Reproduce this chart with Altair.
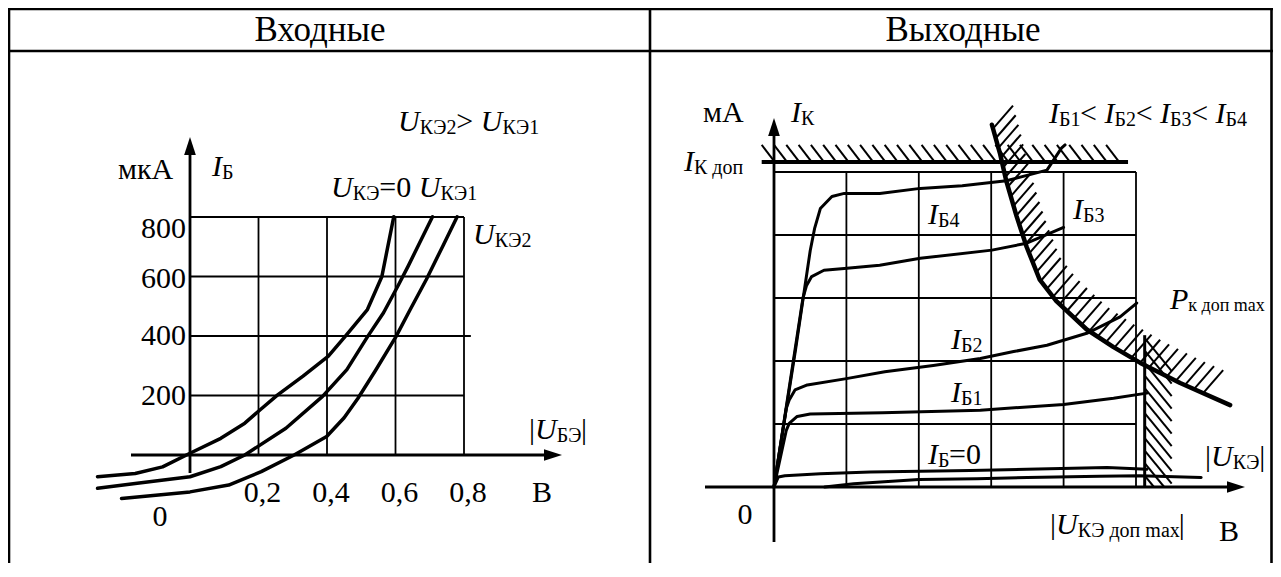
import altair as alt
import numpy as np
import pandas as pd

# ---------------- values ----------------
# Input characteristics: I_Б (мкА) versus |U_БЭ| (В)
in_ube_0 = [-0.27, -0.16, -0.08, 0.0, 0.09, 0.16, 0.205, 0.256, 0.33, 0.404, 0.452, 0.518, 0.56, 0.595]
in_ib_0 = [-73, -62, -40, 6, 56, 107, 152, 202, 265, 332, 397, 489, 599, 801]
in_ube_1 = [-0.27, -0.16, 0.0, 0.09, 0.16, 0.28, 0.387, 0.458, 0.518, 0.565, 0.607, 0.637, 0.708]
in_ib_1 = [-112, -96, -73, -39, 0, 90, 197, 287, 397, 478, 568, 635, 801]
in_ube_2 = [-0.2, -0.1, 0.0, 0.113, 0.208, 0.304, 0.399, 0.45, 0.49, 0.542, 0.601, 0.643, 0.69, 0.738, 0.78]
in_ib_2 = [-146, -135, -124, -101, -56, 0, 62, 125, 190, 285, 397, 489, 590, 702, 801]

in_grid_u = [0.2, 0.4, 0.6, 0.8]
in_grid_i = [200, 400, 600, 800]
in_tick_u_labels = ["0,2", "0,4", "0,6", "0,8"]
in_tick_i_labels = ["200", "400", "600", "800"]

# Output characteristics: I_К versus |U_КЭ| (grid units)
out_ib4_u = [0.0, 0.30, 0.50, 0.56, 0.64, 0.80, 0.97, 1.46, 2.02, 2.6, 3.21, 3.77, 3.97, 4.02]
out_ib4_i = [0.0, 2.2, 3.75, 4.1, 4.42, 4.61, 4.66, 4.66, 4.74, 4.78, 4.86, 5.03, 5.38, 5.43]
out_ib3_u = [0.0, 0.40, 0.45, 0.52, 0.69, 0.97, 1.46, 2.02, 3.01, 3.49, 4.0]
out_ib3_i = [0.0, 3.0, 3.2, 3.34, 3.44, 3.47, 3.52, 3.63, 3.76, 3.87, 4.12]
out_ib2_u = [0.0, 0.17, 0.21, 0.29, 0.46, 1.0, 1.53, 2.2, 2.85, 3.31, 3.77, 4.32, 4.78, 5.01]
out_ib2_i = [0.0, 1.25, 1.38, 1.54, 1.62, 1.72, 1.83, 1.93, 2.04, 2.15, 2.25, 2.44, 2.70, 2.92]
out_ib1_u = [0.0, 0.17, 0.21, 0.32, 0.5, 1.5, 2.85, 4.0, 4.69, 5.15]
out_ib1_i = [0.0, 0.9, 1.01, 1.12, 1.16, 1.18, 1.22, 1.31, 1.41, 1.49]
out_ib0a_u = [0.0, 0.06, 0.15, 0.64, 1.33, 2.71, 3.49, 4.6, 5.15]
out_ib0a_i = [0.0, 0.16, 0.18, 0.21, 0.24, 0.26, 0.28, 0.31, 0.28]
out_ib0b_u = [0.7, 1.1, 2.0, 2.8, 3.5, 4.5, 5.05, 5.9]
out_ib0b_i = [0.0, 0.05, 0.12, 0.13, 0.15, 0.17, 0.18, 0.15]
pk_u = [3.01, 3.12, 3.21, 3.35, 3.49, 3.67, 3.90, 4.32, 4.69, 5.06, 5.61, 6.30]
pk_i = [5.75, 5.30, 4.85, 4.30, 3.81, 3.29, 2.95, 2.50, 2.22, 1.97, 1.65, 1.30]
ik_dop = 5.16
ik_dop_span = [-0.17, 4.89]
uke_dop_max = 5.12
uke_dop_top = 2.41
out_grid = [1, 2, 3, 4, 5]

# ---------------- layout (page pixels) ----------------
FONT = "Liberation Serif"
W, H = 1265, 555
OX, OY = 8, 8
XL0, XLS, YL0, YLS = 190.0, 342.5, 455.0, 0.2975
XR0, XRS, YR0, YRS = 774.0, 72.4, 487.0, 63.0
MAIN, SUB, SUB_DY = 30, 20, 6


def l_dat(px, py):
    return (px - XL0) / XLS, (YL0 - py) / YLS


def r_dat(px, py):
    return (px - XR0) / XRS, (YR0 - py) / YRS


def r_px(x, y):
    return XR0 + x * XRS, YR0 - y * YRS


l_xdom = [l_dat(OX, 0)[0], l_dat(OX + W, 0)[0]]
l_ydom = [l_dat(0, OY + H)[1], l_dat(0, OY)[1]]
r_xdom = [r_dat(OX, 0)[0], r_dat(OX + W, 0)[0]]
r_ydom = [r_dat(0, OY + H)[1], r_dat(0, OY)[1]]

EM = {'U': 0.722, 'I': 0.333, 'P': 0.556, 'К': 0.667, 'Э': 0.667, 'Б': 0.556, 'В': 0.667,
      'А': 0.722, 'м': 0.63, 'к': 0.49, 'д': 0.5, 'о': 0.5, 'п': 0.5, 'х': 0.5, 'н': 0.5,
      'ы': 0.72, 'е': 0.444, 'm': 0.778, 'a': 0.444, 'x': 0.5, '=': 0.564, '<': 0.564,
      '>': 0.564, '|': 0.2, ' ': 0.25, ',': 0.25}
ITAL = {'U': 0.722, 'I': 0.333, 'P': 0.611}


def tw(s, size, italic=False):
    return sum((ITAL[c] if italic and c in ITAL else EM.get(c, 0.5)) for c in s) * size


def build_labels(labels, conv):
    rows = []
    for x0, cy, pieces in labels:
        x = x0
        for piece in pieces:
            txt, kind = piece[0], piece[1]
            size = piece[2] if len(piece) > 2 else (SUB if kind == 's' else MAIN)
            y = cy + (SUB_DY if kind == 's' else 0)
            dx, dy = conv(x, y)
            rows.append(dict(x=dx, y=dy, text=txt, kind=kind, size=size))
            x += tw(txt, size, kind == 'i')
    return pd.DataFrame(rows)


left_labels = [
    (398, 122, [("U", "i"), ("КЭ2", "s"), ("> ", "r"), ("U", "i"), ("КЭ1", "s")]),
    (118, 170, [("мкА", "r")]),
    (212, 167, [("I", "i"), ("Б", "s")]),
    (331, 188, [("U", "i"), ("КЭ", "s"), ("=0 ", "r"), ("U", "i"), ("КЭ1", "s")]),
    (473, 235, [("U", "i"), ("КЭ2", "s")]),
    (529, 430, [("|", "r"), ("U", "i"), ("БЭ", "s"), ("|", "r")]),
    (152.5, 517, [("0", "r")]),
    (532, 493, [("В", "r")]),
]
right_labels = [
    (703, 113, [("мА", "r")]),
    (791, 113, [("I", "i"), ("К", "s")]),
    (684, 162, [("I", "i"), ("К доп", "s")]),
    (1049, 114, [("I", "i"), ("Б1", "s"), ("< ", "r"), ("I", "i"), ("Б2", "s"), ("< ", "r"),
                 ("I", "i"), ("Б3", "s"), ("< ", "r"), ("I", "i"), ("Б4", "s")]),
    (928, 215, [("I", "i"), ("Б4", "s")]),
    (1073, 210, [("I", "i"), ("Б3", "s")]),
    (1170, 300, [("P", "i"), ("к доп max", "s", 18)]),
    (951, 340, [("I", "i"), ("Б2", "s")]),
    (951, 393, [("I", "i"), ("Б1", "s")]),
    (928, 455, [("I", "i"), ("Б", "s"), ("=0", "r")]),
    (1205, 457, [("|", "r"), ("U", "i"), ("КЭ", "s"), ("|", "r")]),
    (737.5, 515, [("0", "r")]),
    (1050, 525, [("|", "r"), ("U", "i"), ("КЭ доп max", "s"), ("|", "r")]),
    (1219, 532, [("В", "r")]),
]

# ---------------- segments ----------------
segL = []
for v in in_grid_u:
    segL.append((v, 0, v, 800, 1.8))
for v in in_grid_i:
    segL.append((0, v, 0.82 if v == 400 else 0.8, v, 1.8))
ax_x0 = l_dat(131, 0)[0]
ax_xt = l_dat(562 - 9, 0)[0]
ax_yb = l_dat(0, 473)[1]
ax_yt = l_dat(0, 137 + 9)[1]
segL.append((ax_x0, 0, ax_xt, 0, 2.8))
segL.append((0, ax_yb, 0, ax_yt, 2.8))
segL = pd.DataFrame(segL, columns=["x", "y", "x2", "y2", "w"])

segR = []
for v in out_grid:
    segR.append((v, 0, v, 5, 1.8))
    segR.append((0, v, 5, v, 1.8))
rx0 = r_dat(705, 0)[0]
rxt = r_dat(1245 - 9, 0)[0]
ryb = r_dat(0, 542)[1]
ryt = r_dat(0, 118 + 9)[1]
segR.append((rx0, 0, rxt, 0, 2.8))
segR.append((0, ryb, 0, ryt, 2.8))
segR.append((ik_dop_span[0], ik_dop, ik_dop_span[1], ik_dop, 4.0))
segR.append((uke_dop_max, 0, uke_dop_max, uke_dop_top, 3.0))

hatch = []
# hatching above I_К доп
_, ikpy = r_px(0, ik_dop)
x_end = r_px(ik_dop_span[1], 0)[0]
bx = r_px(ik_dop_span[0], 0)[0] + 13
while bx <= x_end:
    a = r_dat(bx, ikpy)
    b = r_dat(bx - 13, ikpy - 17)
    hatch.append((a[0], a[1], b[0], b[1], 2.0))
    bx += 12.3
# hatching along P_к доп max
pts = np.array([r_px(x, y) for x, y in zip(pk_u, pk_i)])
seg = np.hypot(np.diff(pts[:, 0]), np.diff(pts[:, 1]))
cum = np.concatenate([[0], np.cumsum(seg)])
s = 4.0
while s < cum[-1]:
    i = int(np.searchsorted(cum, s)) - 1
    t = (s - cum[i]) / seg[i]
    p = pts[i] + t * (pts[i + 1] - pts[i])
    if p[0] < 1212:
        a = r_dat(p[0], p[1])
        b = r_dat(p[0] + 20, p[1] - 23)
        hatch.append((a[0], a[1], b[0], b[1], 2.0))
    s += 10.0
# hatching right of |U_КЭ доп max|
ux_px, utop_px = r_px(uke_dop_max, uke_dop_top)
sy = utop_px + 3
while sy < YR0:
    ex, ey = ux_px + 27, sy + 33
    if ey > YR0:
        tt = (YR0 - sy) / 33
        ex, ey = ux_px + 27 * tt, YR0
    a = r_dat(ux_px, sy)
    b = r_dat(ex, ey)
    hatch.append((a[0], a[1], b[0], b[1], 2.0))
    sy += 12.5
segR = pd.DataFrame(segR + hatch, columns=["x", "y", "x2", "y2", "w"])


def curves(series):
    rows = []
    for name, xs, ys in series:
        for k, (x, y) in enumerate(zip(xs, ys)):
            rows.append(dict(s=name, i=k, x=x, y=y))
    return pd.DataFrame(rows)


curvesL = curves([("U_КЭ=0", in_ube_0, in_ib_0), ("U_КЭ1", in_ube_1, in_ib_1), ("U_КЭ2", in_ube_2, in_ib_2)])
curvesR = curves([("I_Б4", out_ib4_u, out_ib4_i), ("I_Б3", out_ib3_u, out_ib3_i),
                  ("I_Б2", out_ib2_u, out_ib2_i), ("I_Б1", out_ib1_u, out_ib1_i),
                  ("I_Б=0 a", out_ib0a_u, out_ib0a_i), ("I_Б=0 b", out_ib0b_u, out_ib0b_i)])
pkDF = curves([("P", pk_u, pk_i)])

textL = build_labels(left_labels, l_dat)
textR = build_labels(right_labels, r_dat)

ytickL = pd.DataFrame(dict(
    x=[l_dat(186, 0)[0]] * 4,
    y=[v - d / YLS for v, d in zip(in_grid_i, [0, 0, 2, 12])],
    text=in_tick_i_labels))
xtickL = pd.DataFrame(dict(
    x=[v + 4 / XLS for v in in_grid_u],
    y=[l_dat(0, 493)[1]] * 4,
    text=in_tick_u_labels))

UP = "M0,-1L0.65,1L-0.65,1Z"
RIGHT = "M1,0L-1,0.65L-1,-0.65Z"
arrowsL_up = pd.DataFrame(dict(x=[0.0], y=[ax_yt]))
arrowsL_rt = pd.DataFrame(dict(x=[ax_xt], y=[0.0]))
arrowsR_up = pd.DataFrame(dict(x=[0.0], y=[ryt]))
arrowsR_rt = pd.DataFrame(dict(x=[rxt], y=[0.0]))


def panel(xdom, ydom, seg, crv, crv_w, extra_lines, text, up, rt, ticks=()):
    X = lambda f: alt.X(f, type="quantitative", scale=alt.Scale(domain=xdom, nice=False, zero=False), axis=None)
    Y = lambda f: alt.Y(f, type="quantitative", scale=alt.Scale(domain=ydom, nice=False, zero=False), axis=None)
    layers = [
        alt.Chart(seg).mark_rule(color="black", strokeCap="butt").encode(
            x=X("x"), y=Y("y"), x2="x2", y2="y2", strokeWidth=alt.StrokeWidth("w:Q", scale=None)),
        alt.Chart(crv).mark_line(color="black", strokeWidth=crv_w, strokeJoin="round", strokeCap="round").encode(
            x=X("x"), y=Y("y"), detail="s:N", order="i:Q"),
    ]
    for df, w in extra_lines:
        layers.append(alt.Chart(df).mark_line(color="black", strokeWidth=w, strokeJoin="round", strokeCap="round").encode(
            x=X("x"), y=Y("y"), detail="s:N", order="i:Q"))
    for df, shape in ((up, UP), (rt, RIGHT)):
        layers.append(alt.Chart(df).mark_point(shape=shape, size=324, filled=True, color="black", opacity=1, strokeWidth=0).encode(
            x=X("x"), y=Y("y")))
    layers.append(alt.Chart(text).transform_filter(alt.datum.kind == "i").mark_text(
        font=FONT, fontStyle="italic", align="left", baseline="middle", color="black").encode(
        x=X("x"), y=Y("y"), text="text:N", size=alt.Size("size:Q", scale=None)))
    layers.append(alt.Chart(text).transform_filter(alt.datum.kind != "i").mark_text(
        font=FONT, align="left", baseline="middle", color="black").encode(
        x=X("x"), y=Y("y"), text="text:N", size=alt.Size("size:Q", scale=None)))
    for df, align in ticks:
        layers.append(alt.Chart(df).mark_text(font=FONT, fontSize=MAIN, align=align, baseline="middle", color="black").encode(
            x=X("x"), y=Y("y"), text="text:N"))
    return alt.layer(*layers)


left = panel(l_xdom, l_ydom, segL, curvesL, 3.5, [], textL, arrowsL_up, arrowsL_rt,
             ticks=((ytickL, "right"), (xtickL, "center")))
right = panel(r_xdom, r_ydom, segR, curvesR, 3.0, [(pkDF, 4.5)], textR, arrowsR_up, arrowsR_rt)

# table frame and header (pixel positions inside the view)
one = pd.DataFrame({"a": [0]})
frame = []
for x1, x2, y1, y2 in [(0, W, 1, 1), (0, W, 43, 43), (1, 1, 0, H), (642, 642, 0, H), (W - 1.5, W - 1.5, 0, H)]:
    frame.append(alt.Chart(one).mark_rule(color="black", strokeWidth=2.6).encode(
        x=alt.value(x1), x2=alt.value(x2), y=alt.value(y1), y2=alt.value(y2)))
for cx, txt in [(312, "Входные"), (955, "Выходные")]:
    frame.append(alt.Chart(one).mark_text(font=FONT, fontSize=35, align="center", baseline="alphabetic", color="black").encode(
        x=alt.value(cx), y=alt.value(33), text=alt.value(txt)))
frame_layer = alt.layer(*frame)

chart = alt.layer(frame_layer, left, right).resolve_scale(x="independent", y="independent").properties(
    width=W, height=H, padding=0, autosize=alt.AutoSizeParams(type="none"),
    background="white").configure_view(stroke=None)

chart.save("out.html", embed_options={"renderer": "svg", "actions": False})
